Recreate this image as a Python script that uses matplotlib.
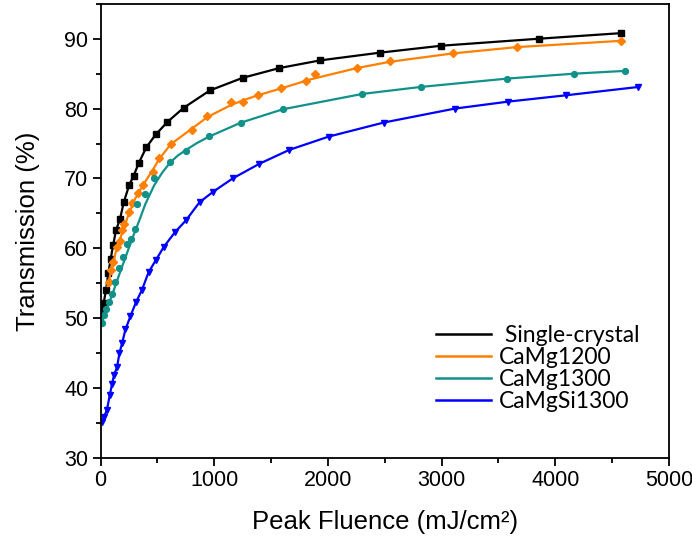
import matplotlib
matplotlib.use("Agg")
import matplotlib.pyplot as plt
from matplotlib import font_manager
from matplotlib.ticker import MultipleLocator

# ---------------- data ----------------
sc_F = [12, 26, 47, 68, 88, 110, 135, 170, 203, 250, 290, 335, 403, 485, 588, 729, 961,
        1249, 1572, 1931, 2454, 2998, 3854, 4580]
sc_T = [51.1, 52.2, 54.0, 56.5, 58.5, 60.5, 62.6, 64.2, 66.6, 69.0, 70.4, 72.2, 74.5, 76.3,
        78.1, 80.1, 82.6, 84.4, 85.8, 86.9, 88.0, 89.0, 90.0, 90.8]

c12_F = [72, 87, 112, 140, 174, 190, 206, 247, 278, 325, 370, 458, 515, 617, 800, 940,
         1146, 1255, 1381, 1590, 1808, 1890, 2254, 2545, 3100, 3660, 4580]
c12_T = [55.2, 56.9, 58.1, 60.2, 61.1, 62.6, 63.5, 65.2, 66.5, 67.9, 69.0, 70.9, 73.0, 75.0,
         77.0, 78.9, 81.0, 81.0, 81.9, 82.9, 83.9, 84.9, 85.8, 86.8, 87.9, 88.8, 89.7]
# fitted curve of CaMg1200 as drawn in the reference
c12_fitF = [60, 90, 130, 180, 240, 300, 370, 458, 515, 617, 800, 940, 1146, 1255, 1381,
            1590, 1850, 2254, 2545, 3100, 3660, 4580]
c12_fitT = [54.6, 56.6, 59.3, 61.8, 64.6, 67.0, 69.0, 71.2, 72.8, 74.9, 77.1, 78.8, 80.5,
            81.2, 81.9, 82.9, 84.2, 85.8, 86.7, 87.9, 88.8, 89.7]

c13_F = [15, 29, 45, 71, 100, 128, 162, 200, 233, 263, 305, 318, 392, 470, 612, 753, 955,
         1235, 1602, 2302, 2816, 3580, 4168, 4615]
c13_T = [49.3, 50.4, 51.3, 52.3, 53.5, 55.2, 57.2, 58.7, 60.6, 61.4, 62.8, 66.3, 67.8, 70.0,
         72.3, 74.0, 76.1, 78.0, 79.9, 82.1, 83.1, 84.3, 85.0, 85.4]
# fitted curve of CaMg1300 as drawn in the reference
c13_fitF = [0, 40, 100, 160, 220, 280, 340, 392, 470, 540, 612, 680, 753, 850, 955, 1235,
            1602, 2302, 2816, 3580, 4168, 4615]
c13_fitT = [48.8, 50.8, 53.3, 56.1, 58.8, 61.5, 64.0, 66.3, 69.0, 70.8, 72.3, 73.3, 74.1,
            75.1, 76.0, 78.0, 79.9, 82.1, 83.1, 84.3, 85.0, 85.4]

cs_F = [12, 30, 55, 80, 100, 118, 144, 165, 188, 218, 262, 311, 362, 422, 485, 555, 653,
        750, 870, 990, 1161, 1396, 1661, 2008, 2490, 3116, 3586, 4092, 4733]
cs_T = [35.2, 35.9, 36.9, 39.0, 40.6, 41.9, 43.0, 45.0, 46.4, 48.4, 50.3, 52.3, 54.0, 56.6,
        58.3, 60.2, 62.3, 64.0, 66.6, 68.1, 70.0, 72.1, 74.1, 76.0, 78.0, 80.0, 81.0, 81.9, 83.1]

labels = [" Single-crystal", "CaMg1200", "CaMg1300", "CaMgSi1300"]
colors = ["#000000", "#FF8000", "#12918A", "#0000FF"]
xlabel = "Peak Fluence (mJ/cm²)"
ylabel = "Transmission (%)"

# ---------------- fonts ----------------
names = {f.name for f in font_manager.fontManager.ttflist}
axfont = "Liberation Sans Narrow" if "Liberation Sans Narrow" in names else "Liberation Sans"
legfont = "Lato" if "Lato" in names else "DejaVu Sans"

fig = plt.figure(figsize=(6.92, 5.42), dpi=100)
ax = fig.add_axes([0.1455, 0.155, 0.821, 0.838])

ms = 3.8
lw = 1.6
ax.plot(sc_F, sc_T, color=colors[0], lw=lw, marker="s", ms=ms, label=labels[0])
ax.plot(c12_fitF, c12_fitT, color=colors[1], lw=lw, label=labels[1])
ax.plot(c12_F, c12_T, color=colors[1], lw=0, marker="D", ms=ms)
ax.plot(c13_fitF, c13_fitT, color=colors[2], lw=lw, label=labels[2])
ax.plot(c13_F, c13_T, color=colors[2], lw=0, marker="o", ms=ms + 0.4)
ax.plot(cs_F, cs_T, color=colors[3], lw=lw, marker="v", ms=ms + 1.2, label=labels[3])

ax.set_xlim(0, 5000)
ax.set_ylim(30, 95)
ax.xaxis.set_major_locator(MultipleLocator(1000))
ax.xaxis.set_minor_locator(MultipleLocator(500))
ax.yaxis.set_major_locator(MultipleLocator(10))
ax.yaxis.set_minor_locator(MultipleLocator(5))
ax.tick_params(which="both", direction="out", top=False, right=False, width=1.3)
ax.tick_params(which="major", length=6, labelsize=15.5, pad=3)
ax.tick_params(which="minor", length=3.5)
for lab in ax.get_xticklabels() + ax.get_yticklabels():
    lab.set_fontfamily(axfont)
for s in ax.spines.values():
    s.set_linewidth(1.3)

ax.set_xlabel(xlabel, fontsize=18.5, fontfamily=axfont, labelpad=13)
ax.set_ylabel(ylabel, fontsize=18.5, fontfamily=axfont, labelpad=17)

leg = ax.legend(loc="lower right", frameon=False, handlelength=2.4, handletextpad=0.35,
                labelspacing=0.05, prop={"family": legfont, "size": 16.5},
                bbox_to_anchor=(0.985, 0.055))
for h in leg.legend_handles:
    h.set_marker("")
    h.set_linewidth(1.8)

fig.savefig("out.png", dpi=100)
